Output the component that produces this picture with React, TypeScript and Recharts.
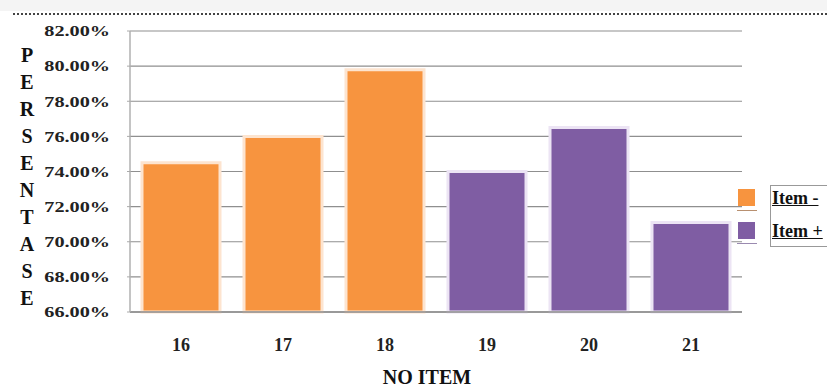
import React from 'react';
import { BarChart, Bar, XAxis, YAxis, CartesianGrid, Legend } from 'recharts';

const categories = ['16', '17', '18', '19', '20', '21'];
const itemMinus = [74.5, 76.0, 79.8, null, null, null];
const itemPlus = [null, null, null, 74.0, 76.5, 71.1];
const yTicks = [66, 68, 70, 72, 74, 76, 78, 80, 82];
const seriesNames = ['Item -', 'Item +'];
const seriesColors = ['#F7943F', '#7F5DA3'];
const seriesStrokes = ['#FDE4CF', '#ECE4F4'];
const yTitle = 'PERSENTASE';
const xTitle = 'NO ITEM';

const data = categories.map((c, i) => ({ cat: c, minus: itemMinus[i], plus: itemPlus[i] }));

const FONT = '"Liberation Serif", "Times New Roman", serif';

const YTick = (props: any) => {
  const { x, y, payload } = props;
  return (
    <g transform={`translate(${x},${y})`}>
      <text
        transform="scale(1.35,1)"
        textAnchor="end"
        dy="0.35em"
        fontFamily={FONT}
        fontWeight="bold"
        fontSize={15}
        fill="#222"
      >
        {Number(payload.value).toFixed(2) + '%'}
      </text>
    </g>
  );
};

const XTick = (props: any) => {
  const { x, y, payload } = props;
  return (
    <text x={x} y={y} dy="0.71em" textAnchor="middle" fontFamily={FONT} fontWeight="bold" fontSize={18} fill="#222">
      {payload.value}
    </text>
  );
};

const YTitle = () => (
  <text x={27} y={62} textAnchor="middle" fontFamily={FONT} fontWeight="bold" fontSize={20} fill="#111">
    {yTitle.split('').map((ch, i) => (
      <tspan key={i} x={27} dy={i === 0 ? 0 : 27}>
        {ch}
      </tspan>
    ))}
  </text>
);

const XTitle = (props: any) => {
  const vb = props.viewBox || {};
  return (
    <text
      x={vb.x + vb.width / 2 - 9}
      y={384}
      textAnchor="middle"
      fontFamily={FONT}
      fontWeight="bold"
      fontSize={20}
      fill="#111"
    >
      {xTitle}
    </text>
  );
};

const renderLegend = () => (
  <div style={{ position: 'relative', width: 100, height: 64, fontFamily: FONT }}>
    {seriesNames.map((n, i) => (
      <div key={n} style={{ position: 'absolute', left: 0, top: i * 33, height: 30, width: 100 }}>
        <div
          style={{
            position: 'absolute',
            left: 3,
            top: 4,
            width: 17,
            height: 17,
            background: seriesColors[i],
          }}
        />
        <div
          style={{
            position: 'absolute',
            left: 2,
            top: 25,
            width: 20,
            height: 1,
            background: i === 0 ? '#b89070' : '#9a8ab0',
          }}
        />
        <div
          style={{
            position: 'absolute',
            left: 37,
            top: 0,
            fontSize: 18,
            fontWeight: 'bold',
            color: '#111',
            textDecoration: 'underline',
            whiteSpace: 'nowrap',
            lineHeight: '26px',
          }}
        >
          {n}
        </div>
      </div>
    ))}
    <div
      style={{
        position: 'absolute',
        left: 35,
        top: 0,
        width: 70,
        height: 62,
        border: '1px solid #999',
        boxSizing: 'border-box',
      }}
    />
  </div>
);

export default function App() {
  return (
    <div
      style={{
        position: 'absolute',
        left: 0,
        top: 0,
        width: 827,
        height: 391,
        overflow: 'hidden',
        background: '#fff',
      }}
    >
      <div style={{ position: 'absolute', left: 0, top: 0, width: 827, height: 11, background: '#f4f4f4' }} />
      <div style={{ position: 'absolute', left: 13, top: 13, width: 814, height: 0, borderTop: '2px dotted #444' }} />
      <BarChart
        width={827}
        height={391}
        data={data}
        margin={{ top: 31, right: 85, bottom: 0, left: 0 }}
        style={{ position: 'absolute', left: 0, top: 0 }}
      >
        <CartesianGrid vertical={false} stroke="#8f8f8f" strokeWidth={1.2} />
        <XAxis
          xAxisId="a"
          dataKey="cat"
          height={79}
          tickLine={false}
          tickMargin={20}
          axisLine={{ stroke: '#8a8a8a', strokeWidth: 1.5 }}
          tick={<XTick />}
          label={<XTitle />}
        />
        <XAxis xAxisId="b" dataKey="cat" hide />
        <YAxis
          width={130}
          domain={[66, 82]}
          ticks={yTicks}
          interval={0}
          tickSize={3}
          tickMargin={17}
          tickLine={{ stroke: '#aaa' }}
          axisLine={{ stroke: '#b0b0b0', strokeWidth: 1.5 }}
          tick={<YTick />}
          label={<YTitle />}
        />
        <Legend
          layout="horizontal"
          align="center"
          verticalAlign="middle"
          content={renderLegend}
          wrapperStyle={{ left: 735, top: 185, width: 110, height: 64 }}
        />
        <Bar
          xAxisId="a"
          dataKey="minus"
          name={seriesNames[0]}
          fill={seriesColors[0]}
          stroke={seriesStrokes[0]}
          strokeWidth={3}
          barSize={78}
          isAnimationActive={false}
        />
        <Bar
          xAxisId="b"
          dataKey="plus"
          name={seriesNames[1]}
          fill={seriesColors[1]}
          stroke={seriesStrokes[1]}
          strokeWidth={3}
          barSize={78}
          isAnimationActive={false}
        />
      </BarChart>
    </div>
  );
}
